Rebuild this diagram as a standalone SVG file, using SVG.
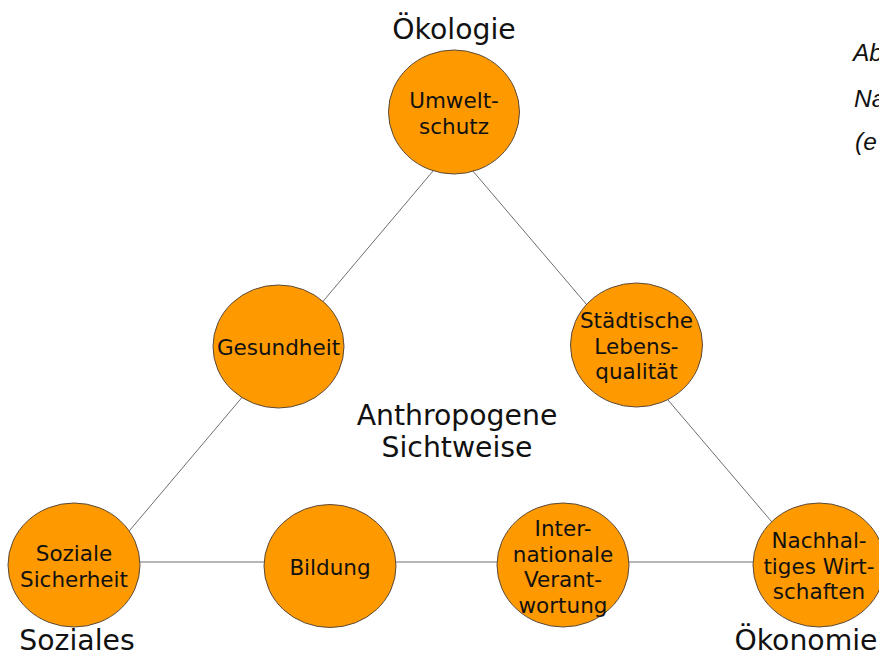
<svg xmlns="http://www.w3.org/2000/svg" width="879" height="654" viewBox="0 0 879 654">
<style>
.bg{fill:#ffffff}
.node ellipse{fill:#ff9900;stroke:#5a4a3a;stroke-width:1}
.node text{font-family:"DejaVu Sans",Verdana,sans-serif;font-size:21.5px;fill:#111;text-anchor:middle}
.conn line{stroke:#6e6e6e;stroke-width:1}
.lbl{font-family:"DejaVu Sans",Verdana,sans-serif;font-size:28.3px;fill:#111;text-anchor:middle}
.cap{font-family:"Liberation Sans",Arial,sans-serif;font-style:italic;font-size:24.5px;fill:#111}
</style>
<rect class="bg" x="0" y="0" width="879" height="654"/>
<g id="connectors" class="conn">
<line x1="442.3" y1="160" x2="307.3" y2="320"/>
<line x1="256.7" y1="380" x2="117.4" y2="545"/>
<line x1="463.5" y1="160" x2="599.8" y2="320"/>
<line x1="651" y1="380" x2="791.5" y2="545"/>
<line x1="120" y1="562" x2="280" y2="562"/>
<line x1="380" y1="562" x2="510" y2="562"/>
<line x1="610" y1="562" x2="780" y2="562"/>
</g>
<g id="umweltschutz" class="node">
<ellipse cx="454" cy="112" rx="65.5" ry="62"/>
<text x="454" y="108">Umwelt-</text>
<text x="454" y="133.5">schutz</text>
</g>
<g id="gesundheit" class="node">
<ellipse cx="278.5" cy="346.5" rx="65.5" ry="61.5"/>
<text x="278.5" y="355">Gesundheit</text>
</g>
<g id="staedtische" class="node">
<ellipse cx="636.5" cy="345" rx="66" ry="62"/>
<text x="636.5" y="328">Städtische</text>
<text x="636.5" y="353.5">Lebens-</text>
<text x="636.5" y="379">qualität</text>
</g>
<g id="soziale-sicherheit" class="node">
<ellipse cx="74" cy="565" rx="66" ry="62"/>
<text x="74" y="561">Soziale</text>
<text x="74" y="586.5">Sicherheit</text>
</g>
<g id="bildung" class="node">
<ellipse cx="330" cy="566" rx="66" ry="61.5"/>
<text x="330" y="575">Bildung</text>
</g>
<g id="internationale-verantwortung" class="node">
<ellipse cx="563" cy="565" rx="66" ry="62"/>
<text x="563" y="536">Inter-</text>
<text x="563" y="561.5">nationale</text>
<text x="563" y="587">Verant-</text>
<text x="563" y="612.5">wortung</text>
</g>
<g id="nachhaltiges-wirtschaften" class="node">
<ellipse cx="819" cy="565" rx="66" ry="62"/>
<text x="819" y="548">Nachhal-</text>
<text x="819" y="573.5">tiges Wirt-</text>
<text x="819" y="599">schaften</text>
</g>
<g id="labels">
<text class="lbl" x="454" y="39">Ökologie</text>
<text class="lbl" x="77" y="650">Soziales</text>
<text class="lbl" x="806" y="650">Ökonomie</text>
<text class="lbl" x="457" y="425">Anthropogene</text>
<text class="lbl" x="457" y="457">Sichtweise</text>
</g>
<g id="caption">
<text class="cap" x="853" y="61">Ab</text>
<text class="cap" x="854" y="107">Na</text>
<text class="cap" x="855" y="150">(e</text>
</g>
</svg>
